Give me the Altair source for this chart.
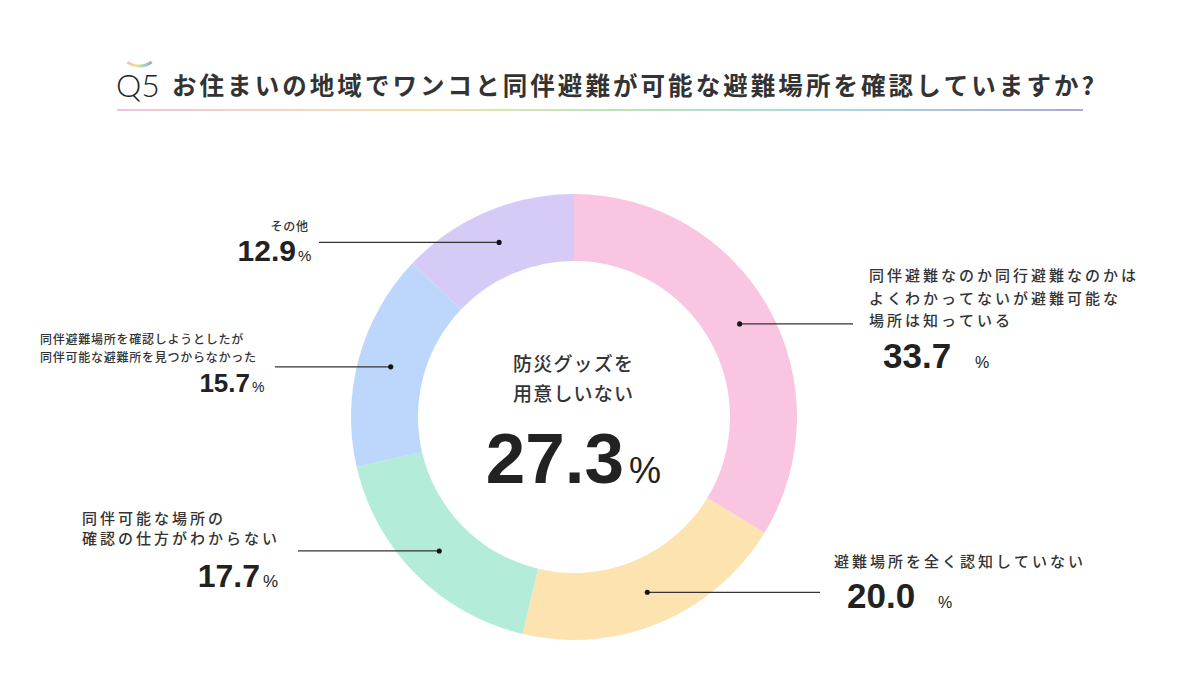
import altair as alt
import pandas as pd

# ---------------- data ----------------
categories = [
    "同伴避難なのか同行避難なのかは\nよくわかってないが避難可能な\n場所は知っている",
    "避難場所を全く認知していない",
    "同伴可能な場所の\n確認の仕方がわからない",
    "同伴避難場所を確認しようとしたが\n同伴可能な避難所を見つからなかった",
    "その他",
]
values = [33.7, 20.0, 17.7, 15.7, 12.9]
slice_colors = ["#F9C5E1", "#FDE3B0", "#B3ECD9", "#BDD7FC", "#D6CBF7"]
question_no = "Q5"
title_text = "お住まいの地域でワンコと同伴避難が可能な避難場所を確認していますか?"
center_lines = ["防災グッズを", "用意しいない"]
center_value = 27.3

# ---------------- layout ----------------
W, H = 1200, 680
CX, CY = 574, 417
R_IN, R_OUT, R_DOT = 156, 223, 190
JP = "Noto Sans CJK JP"
NUM = "Liberation Sans"
TXT_COLOR = "#333333"
NUM_COLOR = "#222222"
THIN = "\u2009"
HAIR = "\u200a"


def spaced(s, sp):
    return sp.join(list(s)) if sp else s


label_layout = [
    dict(tx=869, ty=[280.5, 303.5, 325.5], fs=15, sp=THIN, nx=883, na="left", ny=368, nfs=35, px=975, pfs=16, lead=853),
    dict(tx=834, ty=[566.5], fs=15, sp=THIN, nx=847, na="left", ny=608, nfs=35, px=938, pfs=16, lead=820),
    dict(tx=82, ty=[523.5, 543.5], fs=15, sp=THIN, nx=260, na="right", ny=587, nfs=32, px=263, pfs=17, lead=298),
    dict(tx=40, ty=[344, 362], fs=12, sp=HAIR, nx=250, na="right", ny=392, nfs=26, px=252, pfs=14, lead=275),
    dict(tx=308, ty=[231], fs=12, sp=HAIR, nx=296, na="right", ny=261, nfs=30, px=298, pfs=15, lead=319, ta="right"),
]

df = pd.DataFrame({
    "category": categories,
    "value": values,
    "order": list(range(len(values))),
})

one = alt.Data(values=[{"a": 1}])


def txt(text, x, y, size, weight="normal", align="left", font=JP, color=TXT_COLOR):
    return alt.Chart(one).mark_text(
        text=text, align=align, baseline="alphabetic", font=font, fontSize=size,
        fontWeight=weight, color=color,
    ).encode(x=alt.value(x), y=alt.value(y))


# donut
donut = alt.Chart(df).mark_arc(innerRadius=R_IN, outerRadius=R_OUT).encode(
    theta=alt.Theta("value:Q", stack=True),
    order=alt.Order("order:O"),
    color=alt.Color("category:N", scale=alt.Scale(domain=categories, range=slice_colors), legend=None),
    x=alt.value(CX),
    y=alt.value(CY),
)

lead_xs = "[" + ",".join(str(l["lead"]) for l in label_layout) + "]"
polar = alt.Chart(df).transform_window(
    cum="sum(value)", sort=[alt.SortField("order")], frame=[None, 0]
).transform_joinaggregate(total="sum(value)").transform_calculate(
    mid="(datum.cum - datum.value/2)/datum.total*2*PI",
).transform_calculate(
    px=f"{CX}+{R_DOT}*sin(datum.mid)",
    py=f"{CY}-{R_DOT}*cos(datum.mid)",
    lx=f"{lead_xs}[datum.order]",
)

leaders = polar.mark_rule(color="#333333", strokeWidth=1.2).encode(
    x=alt.X("px:Q", scale=None, axis=None),
    x2="lx:Q",
    y=alt.Y("py:Q", scale=None, axis=None),
)
dots = polar.mark_circle(size=26, color="#111111", opacity=1).encode(
    x=alt.X("px:Q", scale=None, axis=None),
    y=alt.Y("py:Q", scale=None, axis=None),
)

layers = [donut, leaders, dots]

# slice labels
for cat, val, L in zip(categories, values, label_layout):
    lines = cat.split("\n")
    for line, y in zip(lines, L["ty"]):
        layers.append(txt(spaced(line, L["sp"]), L["tx"], y, L["fs"], weight=500, align=L.get("ta", "left")))
    layers.append(txt(f"{val:.1f}", L["nx"], L["ny"], L["nfs"], weight="bold", align=L["na"], font=NUM, color=NUM_COLOR))
    layers.append(txt("%", L["px"], L["ny"], L["pfs"], weight=500, align="left", font=NUM, color=NUM_COLOR))

# center text
layers.append(txt(spaced(center_lines[0], HAIR), CX - 1, 371, 19, weight=500, align="center"))
layers.append(txt(spaced(center_lines[1], HAIR), CX - 1, 401, 19, weight=500, align="center"))
layers.append(txt(f"{center_value:.1f}", 624, 483, 71, weight="bold", align="right", font=NUM, color=NUM_COLOR))
layers.append(txt("%", 629, 483, 36, weight="normal", align="left", font=NUM, color=NUM_COLOR))

# title
layers.append(txt(question_no, 116, 97, 32, weight=300, align="left", font="Lato", color="#222222"))
layers.append(txt(spaced(title_text, HAIR + HAIR), 172, 94.5, 24.5, weight="bold", align="left", color="#333333"))

rainbow = alt.LinearGradient(
    gradient="linear", x1=0, x2=1, y1=0, y2=0,
    stops=[
        alt.GradientStop(offset=0.0, color="#F4C2DC"),
        alt.GradientStop(offset=0.3, color="#F3E2AE"),
        alt.GradientStop(offset=0.5, color="#BFE3B4"),
        alt.GradientStop(offset=0.75, color="#A6D8E4"),
        alt.GradientStop(offset=1.0, color="#ABA6D8"),
    ],
)
underline = alt.Chart(one).mark_rect(fill=rainbow).encode(
    x=alt.value(117), x2=alt.value(1083), y=alt.value(109), y2=alt.value(111)
)
arc_grad = alt.LinearGradient(
    gradient="linear", x1=0, x2=1, y1=0, y2=0,
    stops=[
        alt.GradientStop(offset=0.0, color="#F6B8C8"),
        alt.GradientStop(offset=0.35, color="#F2E08A"),
        alt.GradientStop(offset=0.6, color="#A8E0B0"),
        alt.GradientStop(offset=1.0, color="#9C9CE8"),
    ],
)
q_arc = alt.Chart(one).mark_arc(
    fill=arc_grad, innerRadius=19.5, outerRadius=22.5, theta=2.52, theta2=3.76
).encode(x=alt.value(139.5), y=alt.value(45))
layers += [underline, q_arc]

chart = alt.layer(*layers).properties(
    width=W, height=H, padding=0, autosize="none", background="white"
).configure_view(stroke=None)

chart.save("out.html", embed_options={"renderer": "svg", "actions": False})
